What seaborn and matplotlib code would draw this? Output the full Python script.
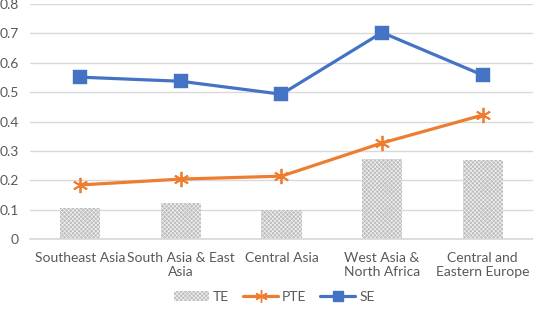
import matplotlib
matplotlib.use("Agg")
import matplotlib.pyplot as plt
import seaborn as sns
import pandas as pd
from matplotlib.lines import Line2D
from matplotlib.patches import Patch

categories = ["Southeast Asia", "South Asia & East\nAsia", "Central Asia",
              "West Asia &\nNorth Africa", "Central and\nEastern Europe"]
te = [0.105, 0.122, 0.100, 0.272, 0.268]
pte = [0.184, 0.204, 0.214, 0.327, 0.422]
se = [0.551, 0.537, 0.493, 0.703, 0.558]
yticks = [0, 0.1, 0.2, 0.3, 0.4, 0.5, 0.6, 0.7, 0.8]
ytick_labels = ["0", "0.1", "0.2", "0.3", "0.4", "0.5", "0.6", "0.7", "0.8"]

df = pd.DataFrame({"cat": categories, "TE": te, "PTE": pte, "SE": se})

sns.set_theme(style="white")
plt.rcParams['font.family'] = ['Lato', 'DejaVu Sans']
plt.rcParams['hatch.color'] = '#f0f0f0'
plt.rcParams['hatch.linewidth'] = 0.5

fig = plt.figure(figsize=(5.33, 3.09), dpi=100)
ax = fig.add_axes([0.056, 0.2265, 0.944, 0.7605])

orange = "#ED7D31"
blue = "#4472C4"
barcol = "#bcbcbc"

sns.barplot(data=df, x="cat", y="TE", color=barcol, width=0.4, ax=ax,
            saturation=1, hatch="xxxxxxxx", edgecolor="#f0f0f0", linewidth=0, zorder=2)
sns.pointplot(data=df, x="cat", y="PTE", color=orange, markers=(6, 2, 0),
              linestyles="-", ax=ax, markersize=11, linewidth=2.3,
              markeredgewidth=1.3)
sns.pointplot(data=df, x="cat", y="SE", color=blue, markers="s",
              linestyles="-", ax=ax, markersize=9, linewidth=2.3)

ax.set_ylim(0, 0.8)
ax.set_xlim(-0.5, 4.5)
ax.set_yticks(yticks)
ax.set_yticklabels(ytick_labels)
ax.set_xlabel("")
ax.set_ylabel("")
ax.grid(axis="y", color="#d9d9d9", linewidth=1, zorder=0)
ax.set_axisbelow(True)
for s in ["top", "right", "left"]:
    ax.spines[s].set_visible(False)
ax.spines["bottom"].set_color("#d9d9d9")
ax.tick_params(axis="y", colors="#595959", labelsize=10, length=0, pad=8)
ax.tick_params(axis="x", colors="#595959", labelsize=10, length=0, pad=9)

handles = [
    Patch(facecolor=barcol, hatch="xxxxxxxx", edgecolor="#f0f0f0", linewidth=0),
    Line2D([], [], color=orange, marker=(6, 2, 0), markersize=9, linewidth=2.3),
    Line2D([], [], color=blue, marker="s", markersize=7, linewidth=2.3),
]
fig.legend(handles, ["TE", "PTE", "SE"], loc="lower center", ncol=3,
           bbox_to_anchor=(0.515, -0.02), frameon=False, fontsize=10,
           labelcolor="#595959", handlelength=2.5, columnspacing=1.0,
           handletextpad=0.3)

fig.savefig("out.png", dpi=100)
